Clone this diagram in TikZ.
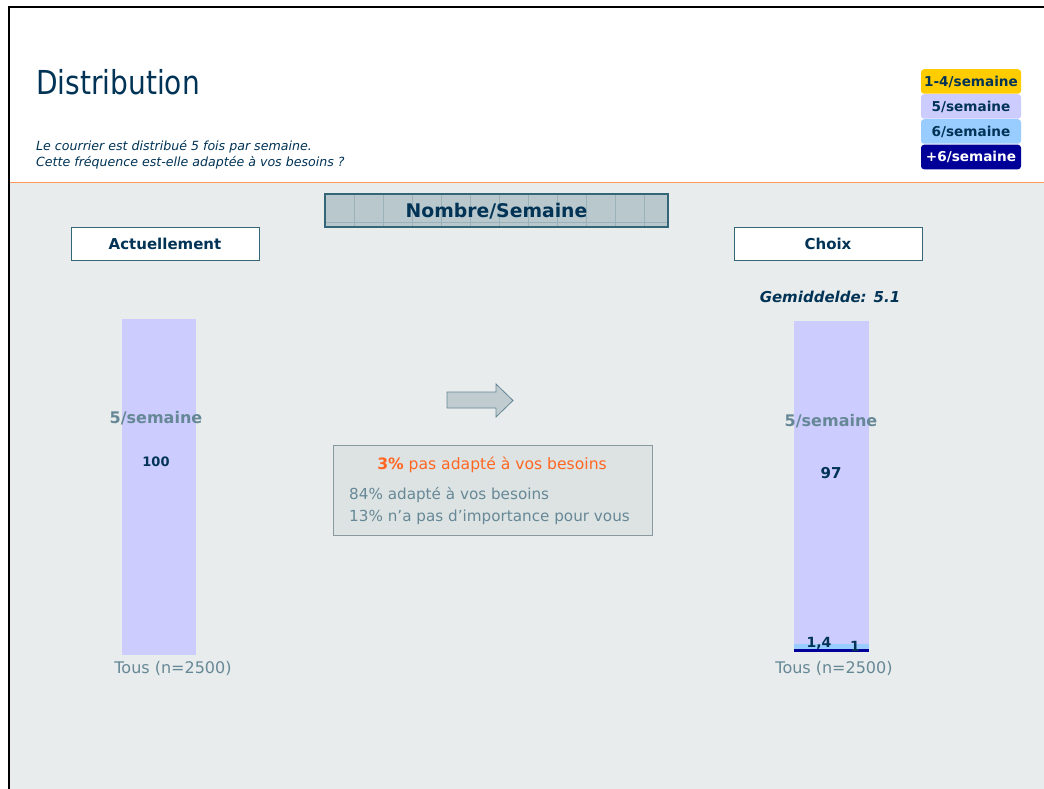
\documentclass[tikz,border=0pt]{standalone}
\usepackage{fontspec}
\setmainfont{DejaVu Sans}
\newfontfamily\titlefont[FakeStretch=0.85]{DejaVu Sans}
\definecolor{bggray}{RGB}{232,236,236}
\definecolor{darkteal}{RGB}{0,51,85}
\definecolor{midteal}{RGB}{102,136,150}
\definecolor{orangeline}{RGB}{255,153,85}
\definecolor{orangetxt}{RGB}{255,102,34}
\definecolor{legyellow}{RGB}{255,204,0}
\definecolor{leglav}{RGB}{204,204,255}
\definecolor{legblue}{RGB}{153,204,255}
\definecolor{legnavy}{RGB}{0,0,153}
\definecolor{boxborder}{RGB}{51,102,119}
\definecolor{hdrfill}{RGB}{184,200,204}
\definecolor{notefill}{RGB}{221,227,227}
\definecolor{noteborder}{RGB}{136,153,160}
\definecolor{arrowfill}{RGB}{192,204,208}
\tikzset{
  legbox/.style={rounded corners=3pt, minimum width=100pt, minimum height=24.5pt, inner sep=0pt,
    font=\fontsize{13.6}{15}\selectfont\bfseries, text=darkteal},
  colhead/.style={draw=boxborder, line width=1pt, fill=white, minimum width=188pt, minimum height=33pt,
    inner sep=0pt, font=\fontsize{15}{17}\selectfont\bfseries, text=darkteal},
  barlabel/.style={font=\fontsize{16}{19}\selectfont\bfseries, text=midteal},
  barnum/.style={font=\fontsize{13}{15}\selectfont\bfseries, text=darkteal},
  tous/.style={font=\fontsize{16}{19}\selectfont, text=midteal},
}
\begin{document}
\begin{tikzpicture}[x=1pt,y=-1pt]
\useasboundingbox (0,0) rectangle (1044,789);
% backgrounds
\fill[white] (0,0) rectangle (1044,789);
\fill[bggray] (9,183) rectangle (1044,789);
\draw[orangeline, line width=1.5pt] (9,182.5) -- (1044,182.5);
\draw[black, line width=2.2pt] (9,789) -- (9,7) -- (1044,7);
% title
\node[anchor=base west, inner sep=0pt, text=darkteal, font=\fontsize{33}{40}\selectfont\titlefont] (title) at (36,95) {Distribution};
\node[anchor=base west, inner sep=0pt, text=darkteal, font=\fontsize{12.6}{16}\selectfont\itshape, align=left] (sub) at (36,166)
  {Le courrier est distribué 5 fois par semaine.\\Cette fréquence est-elle adaptée à vos besoins ?};
% legend
\node[legbox, fill=legyellow] (l1) at (971,81.5) {1-4/semaine};
\node[legbox, fill=leglav] (l2) at (971,106.5) {5/semaine};
\node[legbox, fill=legblue] (l3) at (971,131.5) {6/semaine};
\node[legbox, fill=legnavy, text=white] (l4) at (971,157) {+6/semaine};
% header
\node[fill=hdrfill, draw=boxborder, line width=1.2pt, minimum width=343pt, minimum height=33pt, inner sep=0pt] (hdr) at (496.5,210.5) {};
\foreach \xx in {354,383,412,441,470,499,528,557,586,615,644}
  \draw[midteal!65, line width=0.5pt] (\xx,195) -- (\xx,226);
\draw[midteal!65, line width=0.5pt] (326,222) -- (667,222);
\node[font=\fontsize{18.8}{21}\selectfont\bfseries, text=darkteal] (hdrtxt) at (496.5,211.5) {Nombre/Semaine};
% column heads
\node[colhead] (act) at (165,243.5) {Actuellement};
\node[colhead] (choix) at (828,243.5) {Choix};
\node[font=\fontsize{15}{18}\selectfont\bfseries\itshape, text=darkteal] (gem) at (830,297) {Gemiddelde: 5.1};
% left bar
\fill[leglav] (122,319) rectangle (196,655);
\node[barlabel] (lb5) at (156,418) {5/semaine};
\node[barnum] (lb100) at (156,462) {100};
\node[tous] (ltous) at (173,668) {Tous (n=2500)};
% right bar
\fill[leglav] (794,321) rectangle (869,644);
\fill[legblue] (794,644) rectangle (869,649);
\fill[legnavy] (794,649) rectangle (869,652);
\node[barlabel] (rb5) at (831,421) {5/semaine};
\node[barnum, font=\fontsize{15}{17}\selectfont\bfseries] (rb97) at (831,473) {97};
\node[barnum, font=\fontsize{14}{16}\selectfont\bfseries] (rb14) at (819,643) {1,4};
\node[barnum, font=\fontsize{14}{16}\selectfont\bfseries] (rb1) at (855,646) {1};
\node[tous] (rtous) at (834,668) {Tous (n=2500)};
% arrow
\draw[draw=midteal, fill=arrowfill, line width=0.8pt, line join=miter]
  (447,392) -- (496,392) -- (496,384) -- (513,400.5) -- (496,417) -- (496,408) -- (447,408) -- cycle;
% note box
\node[draw=noteborder, fill=notefill, line width=1pt, minimum width=319pt, minimum height=90pt, inner sep=0pt] (note) at (492.5,490) {};
\node[text=orangetxt, font=\fontsize{15.6}{18}\selectfont] (n1) at (492,465) {\textbf{3\%} pas adapté à vos besoins};
\node[anchor=base west, inner sep=0pt, text=midteal, font=\fontsize{15.2}{22}\selectfont, align=left] (n2) at (349,521)
  {84\% adapté à vos besoins\\13\% n’a pas d’importance pour vous};
\end{tikzpicture}
\end{document}
